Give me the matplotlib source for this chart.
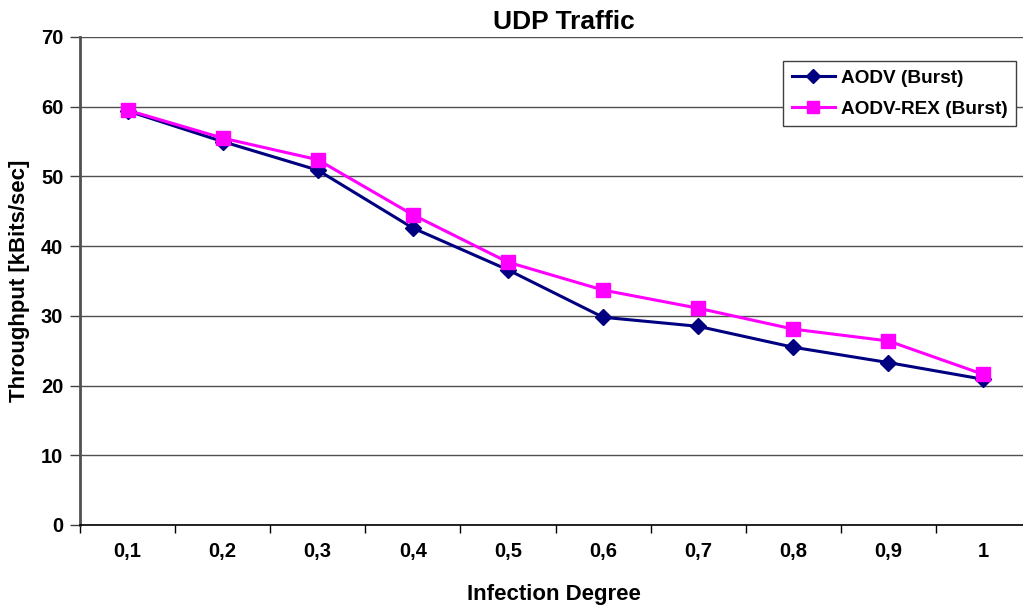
import matplotlib
matplotlib.use("Agg")
import matplotlib.pyplot as plt
import numpy as np

# Infection degree categories and throughput values (kBits/sec)
categories = ["0,1", "0,2", "0,3", "0,4", "0,5", "0,6", "0,7", "0,8", "0,9", "1"]
aodv_burst = [59.4, 55.0, 50.9, 42.6, 36.6, 29.8, 28.5, 25.5, 23.3, 20.9]
aodv_rex_burst = [59.5, 55.5, 52.4, 44.5, 37.7, 33.7, 31.1, 28.1, 26.4, 21.6]
y_ticks = [0, 10, 20, 30, 40, 50, 60, 70]

plt.rcParams["font.family"] = ["Liberation Sans", "DejaVu Sans"]
plt.rcParams["font.weight"] = "bold"

W, H = 1023, 607
fig = plt.figure(figsize=(W / 100, H / 100), dpi=100)
ax = fig.add_axes([80 / W, 82 / H, 951 / W, 488 / H])

x = np.arange(len(categories))
ax.plot(x, aodv_burst, color="#000080", lw=2.2, marker="D", ms=8.5,
        mfc="#000080", mec="#000080", label="AODV (Burst)", zorder=3)
ax.plot(x, aodv_rex_burst, color="#FF00FF", lw=2.2, marker="s", ms=10.5,
        mfc="#FF00FF", mec="#FF00FF", label="AODV-REX (Burst)", zorder=4)

ax.set_xlim(-0.5, len(categories) - 0.5)
ax.set_ylim(0, 70)
ax.set_yticks(y_ticks)
ax.set_yticklabels([str(v) for v in y_ticks], fontsize=14.5, fontweight="bold")
ax.set_xticks(x)
ax.set_xticklabels(categories, fontsize=14.5, fontweight="bold")
ax.set_xticks(np.arange(-0.5, len(categories), 1.0), minor=True)
ax.tick_params(axis="x", which="major", length=0, pad=12)
ax.tick_params(axis="x", which="minor", length=6, width=1, color="black", direction="out")
ax.tick_params(axis="y", length=7, width=1, color="#404040", direction="out", pad=5)

ax.grid(axis="y", color="#505050", lw=1)
ax.set_axisbelow(True)
for side in ("top", "right"):
    ax.spines[side].set_visible(False)
ax.spines["left"].set_color("#505050")
ax.spines["left"].set_linewidth(2)
ax.spines["bottom"].set_color("black")
ax.spines["bottom"].set_linewidth(1.2)

fig.text(564 / W, 1 - 29 / H, "UDP Traffic", fontsize=19, fontweight="bold",
         ha="center", va="baseline")
fig.text(554 / W, 1 - 600 / H, "Infection Degree", fontsize=16, fontweight="bold",
         ha="center", va="baseline")
fig.text(20 / W, 1 - 281 / H, "Throughput [kBits/sec]", fontsize=16, fontweight="bold",
         ha="center", va="center", rotation=90)

leg = ax.legend(loc="upper left", bbox_to_anchor=(783 / W, 1 - 61 / H),
                bbox_transform=fig.transFigure, fontsize=13.7, frameon=True,
                fancybox=False, edgecolor="#404040", framealpha=1,
                handlelength=2.3, borderpad=0.45, labelspacing=0.7,
                handletextpad=0.3, borderaxespad=0, markerscale=0.8)
leg.get_frame().set_linewidth(1)
for t in leg.get_texts():
    t.set_fontweight("bold")

fig.savefig("out.png", dpi=100)
